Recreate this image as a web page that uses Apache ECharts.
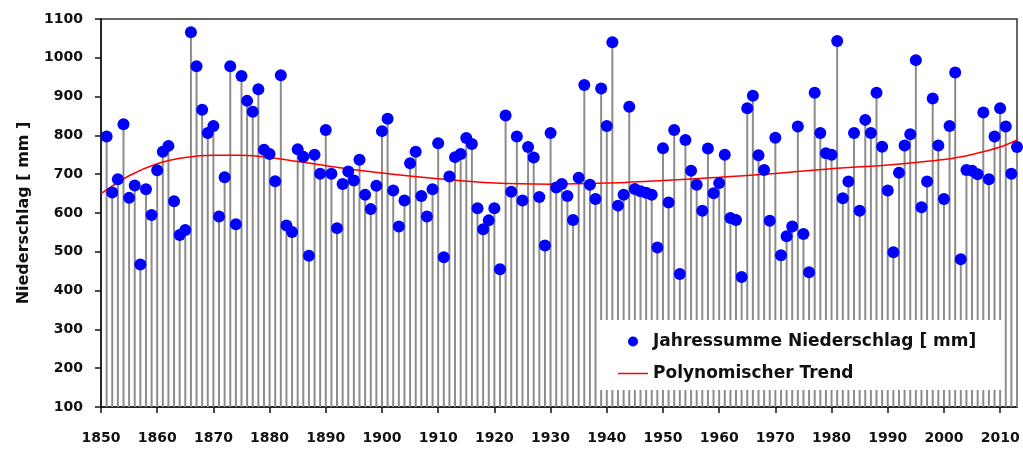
<!DOCTYPE html>
<html>
<head>
<meta charset="utf-8">
<script src="https://cdn.jsdelivr.net/npm/echarts@6/dist/echarts.min.js"></script>
<style>html,body{margin:0;padding:0;background:#fff}#c{width:1023px;height:449px}</style>
</head>
<body>
<div id="c"></div>
<script>
// Jahressumme Niederschlag [mm], years 1851..2013
var firstYear = 1851;
var precip1851_1900 = [797,653,687,829,639,671,467,661,595,710, 758,773,630,543,556,1066,978,866,806,824, 591,692,978,571,953,889,861,919,763,752, 682,955,568,551,764,745,490,750,701,814, 701,561,675,707,684,737,647,610,670,811];
var precip1901_1950 = [843,658,565,632,728,758,644,591,661,780, 486,694,744,752,793,778,612,558,581,612, 455,851,655,797,632,770,743,641,516,806, 666,675,644,582,691,930,673,636,921,824, 1040,619,647,874,662,656,652,647,511,767];
var precip1951_2000 = [627,814,443,788,709,673,606,766,651,677, 750,587,582,435,870,902,749,711,580,794, 491,540,565,823,546,447,910,806,754,750, 1043,638,681,806,606,840,806,910,771,658, 499,704,774,803,994,615,681,895,774,636];
var precip2001_2013 = [824,962,481,711,709,700,859,687,797,870, 823,701,770];
// Polynomischer Trend
var trendYears  = [1850,1855,1860,1865,1870,1875,1880,1890,1900,1910,1920,1930,1940,1950,1960,1970,1980,1990,2000,2005,2010,2013];
var trendValues = [650, 696, 727, 743, 749, 749, 743, 722, 703, 688, 677, 674, 677, 684, 692, 702, 714, 724, 738, 751, 770, 788];
var yTicks = [100,200,300,400,500,600,700,800,900,1000,1100];
var xTickLabels = [1850,1860,1870,1880,1890,1900,1910,1920,1930,1940,1950,1960,1970,1980,1990,2000,2010];

var precip = precip1851_1900.concat(precip1901_1950, precip1951_2000, precip2001_2013);
var pts = precip.map(function(v,i){ return [firstYear+i, v]; });
var trend = trendYears.map(function(y,i){ return [y, trendValues[i]]; });

var F = 'DejaVu Sans';
var chart = echarts.init(document.getElementById('c'));
chart.setOption({
  animation: false,
  backgroundColor: '#fff',
  grid: {left: 101, right: 6, top: 19, bottom: 42, show: true, borderColor: '#333', borderWidth: 1.5},
  xAxis: {
    type: 'value', min: 1850, max: 2013, interval: 10,
    axisLine: {show: true, lineStyle: {color: '#111', width: 1.5}},
    axisTick: {show: true, length: 6, lineStyle: {color: '#111', width: 1.5}},
    splitLine: {show: false},
    axisLabel: {showMaxLabel: false, margin: 24, color: '#111', fontFamily: F, fontWeight: 'bold', fontSize: 14,
      formatter: function(v){ return xTickLabels.indexOf(v) >= 0 ? String(v) : ''; }}
  },
  yAxis: {
    type: 'value', min: yTicks[0], max: yTicks[yTicks.length-1], interval: 100,
    name: 'Niederschlag [ mm ]', nameLocation: 'middle', nameGap: 69,
    nameTextStyle: {color: '#111', fontFamily: F, fontWeight: 'bold', fontSize: 16},
    axisLine: {show: true, lineStyle: {color: '#111', width: 1.5}},
    axisTick: {show: true, length: 6, lineStyle: {color: '#111', width: 1.5}},
    splitLine: {show: false},
    axisLabel: {margin: 18, color: '#111', fontFamily: F, fontWeight: 'bold', fontSize: 14,
      formatter: function(v){ return String(v); }}
  },
  legend: {
    orient: 'vertical', left: 618, top: 333, padding: 0, itemGap: 15,
    itemWidth: 30, itemHeight: 10,
    textStyle: {color: '#111', fontFamily: F, fontWeight: 'bold', fontSize: 17},
    data: [
      {name: 'Jahressumme Niederschlag [ mm]', icon: 'circle'},
      {name: 'Polynomischer Trend', icon: 'path://M0,0 L30,0 L30,1.5 L0,1.5 Z', itemStyle: {color: '#ff0000'}}
    ]
  },
  graphic: [{type: 'rect', left: 597, top: 320, z: 3, silent: true,
    shape: {width: 405, height: 70}, style: {fill: '#fff'}}],
  series: [
    {type: 'bar', name: 'drop', data: pts, barWidth: 2, silent: true, z: 1,
     itemStyle: {color: '#8c8c8c'}},
    {type: 'scatter', name: 'Jahressumme Niederschlag [ mm]', data: pts, symbolSize: 12, z: 2,
     itemStyle: {color: '#0000ff', opacity: 1}},
    {type: 'line', name: 'Polynomischer Trend', data: trend, smooth: 0.3, symbol: 'none', z: 2,
     lineStyle: {color: '#ff0000', width: 1.5}, itemStyle: {color: '#ff0000'}}
  ]
});
</script>
</body>
</html>
